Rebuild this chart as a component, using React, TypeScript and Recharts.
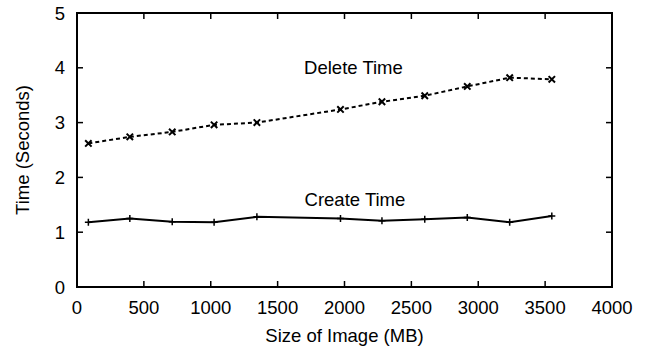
import { LineChart, Line, XAxis, YAxis, ReferenceDot, ReferenceArea } from 'recharts';

// image sizes (MB) and measured times (seconds)
const imageSizes = [85, 395, 712, 1025, 1345, 1970, 2280, 2600, 2918, 3235, 3550];
const deleteTimes = [2.62, 2.74, 2.83, 2.96, 3.0, 3.24, 3.38, 3.49, 3.66, 3.82, 3.79];
const createTimes = [1.18, 1.25, 1.19, 1.18, 1.28, 1.25, 1.21, 1.235, 1.27, 1.18, 1.295];

const xTicks = [0, 500, 1000, 1500, 2000, 2500, 3000, 3500, 4000];
const yTicks = [0, 1, 2, 3, 4, 5];

const FONT = '"Liberation Sans", Arial, Helvetica, sans-serif';
const INK = '#000000';
const FS = 18.5;
const FRAME_W = 2;

const W = 651;
const H = 347;
const MARGIN = { top: 13, right: 39, left: 0, bottom: 0 };
const Y_AXIS_W = 77;
const X_AXIS_H = 60;
const PLOT_W = W - MARGIN.left - MARGIN.right - Y_AXIS_W;
const PLOT_H = H - MARGIN.top - MARGIN.bottom - X_AXIS_H;
const TICK_LEN = 6;

const data = imageSizes.map((size, i) => ({
  size,
  deleteTime: deleteTimes[i],
  createTime: createTimes[i],
}));

function CrossDot(props: any) {
  const { cx, cy } = props;
  if (cx == null || cy == null) return null;
  const s = 3.2;
  return (
    <path
      d={`M${cx - s},${cy - s}L${cx + s},${cy + s}M${cx - s},${cy + s}L${cx + s},${cy - s}`}
      stroke={INK}
      strokeWidth={2}
      fill="none"
    />
  );
}

function PlusDot(props: any) {
  const { cx, cy } = props;
  if (cx == null || cy == null) return null;
  const s = 3.5;
  return (
    <path
      d={`M${cx - s},${cy}L${cx + s},${cy}M${cx},${cy - s}L${cx},${cy + s}`}
      stroke={INK}
      strokeWidth={1.5}
      fill="none"
    />
  );
}

// ticks point inward and are mirrored on the opposite side
function BottomTick(props: any) {
  const { x, y, payload } = props;
  return (
    <g>
      <line x1={x} y1={y} x2={x} y2={y - TICK_LEN} stroke={INK} strokeWidth={1.5} />
      <line x1={x} y1={y - PLOT_H} x2={x} y2={y - PLOT_H + TICK_LEN} stroke={INK} strokeWidth={1.5} />
      <text x={x} y={y + 27} textAnchor="middle" fill={INK} fontSize={FS} fontFamily={FONT}>
        {payload.value}
      </text>
    </g>
  );
}

function LeftTick(props: any) {
  const { x, y, payload } = props;
  return (
    <g>
      <line x1={x} y1={y} x2={x + TICK_LEN} y2={y} stroke={INK} strokeWidth={1.5} />
      <line x1={x + PLOT_W} y1={y} x2={x + PLOT_W - TICK_LEN} y2={y} stroke={INK} strokeWidth={1.5} />
      <text x={x - 12} y={y} dy="0.36em" textAnchor="end" fill={INK} fontSize={FS} fontFamily={FONT}>
        {payload.value}
      </text>
    </g>
  );
}

const axisStroke = { stroke: INK, strokeWidth: 1.5 };

export default function App() {
  return (
    <div style={{ position: 'absolute', left: 0, top: 0, fontFamily: FONT }}>
      <LineChart width={W} height={H} data={data} margin={MARGIN}>
        <XAxis
          dataKey="size"
          type="number"
          domain={[0, 4000]}
          ticks={xTicks}
          allowDataOverflow
          height={X_AXIS_H}
          tick={BottomTick}
          tickSize={0}
          tickMargin={0}
          tickLine={false}
          axisLine={axisStroke}
          interval={0}
          label={{
            value: 'Size of Image (MB)',
            position: 'insideBottom',
            offset: 5,
            fill: INK,
            fontSize: FS,
            fontFamily: FONT,
          }}
        />
        <YAxis
          type="number"
          domain={[0, 5]}
          ticks={yTicks}
          allowDataOverflow
          width={Y_AXIS_W}
          tick={LeftTick}
          tickSize={0}
          tickMargin={0}
          tickLine={false}
          axisLine={axisStroke}
          interval={0}
          label={{
            value: 'Time (Seconds)',
            angle: -90,
            position: 'insideLeft',
            offset: 22,
            fill: INK,
            fontSize: FS,
            fontFamily: FONT,
            style: { textAnchor: 'middle' },
          }}
        />
        <ReferenceArea
          x1={0}
          x2={4000}
          y1={0}
          y2={5}
          fill="none"
          stroke={INK}
          strokeWidth={FRAME_W}
        />
        <Line
          dataKey="deleteTime"
          stroke={INK}
          strokeWidth={2}
          strokeDasharray="4 3"
          dot={<CrossDot />}
          activeDot={false}
          isAnimationActive={false}
        />
        <Line
          dataKey="createTime"
          stroke={INK}
          strokeWidth={2}
          dot={<PlusDot />}
          activeDot={false}
          isAnimationActive={false}
        />
        <ReferenceDot
          x={2067}
          y={4.01}
          r={0}
          fill="none"
          stroke="none"
          label={{ value: 'Delete Time', position: 'center', fill: INK, fontSize: FS, fontFamily: FONT }}
        />
        <ReferenceDot
          x={2078}
          y={1.59}
          r={0}
          fill="none"
          stroke="none"
          label={{ value: 'Create Time', position: 'center', fill: INK, fontSize: FS, fontFamily: FONT }}
        />
      </LineChart>
    </div>
  );
}
